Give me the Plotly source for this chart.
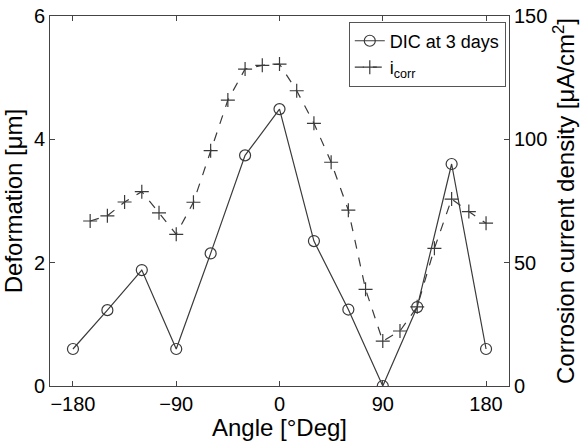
import plotly.graph_objects as go

# DIC deformation data
dic_angle = [-180, -150, -120, -90, -60, -30, 0, 30, 60, 90, 120, 150, 180]
dic_def = [0.6, 1.23, 1.88, 0.6, 2.15, 3.74, 4.49, 2.35, 1.24, 0.0, 1.28, 3.6, 0.6]

# corrosion current density data
icorr_angle = [-165, -150, -135, -120, -105, -90, -75, -60, -45, -30, -15, 0,
               15, 30, 45, 60, 75, 90, 105, 120, 135, 150, 165, 180]
icorr_val = [66.9, 69.0, 74.6, 78.8, 70.2, 61.5, 74.5, 95.4, 115.9, 128.5, 130.0, 130.5,
             119.7, 106.5, 90.7, 71.3, 39.2, 18.2, 22.3, 32.1, 55.8, 75.8, 70.7, 66.0]

x_ticks = [-180, -90, 0, 90, 180]
y_ticks = [0, 2, 4, 6]
y2_ticks = [0, 50, 100, 150]

col = "#3a3a3a"
font = "Liberation Sans, Arial, sans-serif"

fig = go.Figure()
fig.add_trace(go.Scatter(
    x=dic_angle, y=dic_def, name="DIC at 3 days", mode="lines+markers",
    line=dict(color=col, width=1.2),
    marker=dict(symbol="circle-open", size=11, color=col, line=dict(width=1.2)),
))
fig.add_trace(go.Scatter(
    x=icorr_angle, y=icorr_val, name="i<sub>corr</sub>", mode="lines+markers", yaxis="y2",
    line=dict(color=col, width=1.2, dash="dash"),
    marker=dict(symbol="cross-thin-open", size=10, color=col, line=dict(width=1.2, color=col)),
))

fig.update_layout(
    width=586, height=441,
    margin=dict(l=50, r=77, t=16, b=55),
    paper_bgcolor="white", plot_bgcolor="white",
    font=dict(family=font, size=20, color="black"),
    showlegend=True,
    legend=dict(x=0.993, xanchor="right", y=0.985, yanchor="top",
                bordercolor="#555", borderwidth=1, bgcolor="white",
                font=dict(size=18), tracegroupgap=0, itemwidth=30),
    xaxis=dict(range=[-200, 200], tickvals=x_ticks, ticks="inside", ticklen=5,
               showline=True, linecolor="#444", linewidth=1, mirror="ticks",
               showgrid=False, zeroline=False, automargin=False,
               title=dict(text="Angle [°Deg]", standoff=0)),
    yaxis=dict(range=[0, 6], tickvals=y_ticks, ticks="inside", ticklen=5,
               showline=True, linecolor="#444", linewidth=1, mirror=True,
               showgrid=False, zeroline=False, automargin=False,
               title=dict(text="Deformation [μm]", standoff=4)),
    yaxis2=dict(range=[0, 150], tickvals=y2_ticks, ticks="inside", ticklen=5,
                overlaying="y", side="right", showline=True, linecolor="#444",
                linewidth=1, showgrid=False, zeroline=False, automargin=False,
                title=dict(text="Corrosion current density [μA/cm<sup>2</sup>]", standoff=10)),
)

fig.write_html("out.html", config={"displayModeBar": False},
               post_script="document.body.style.margin='0';")
